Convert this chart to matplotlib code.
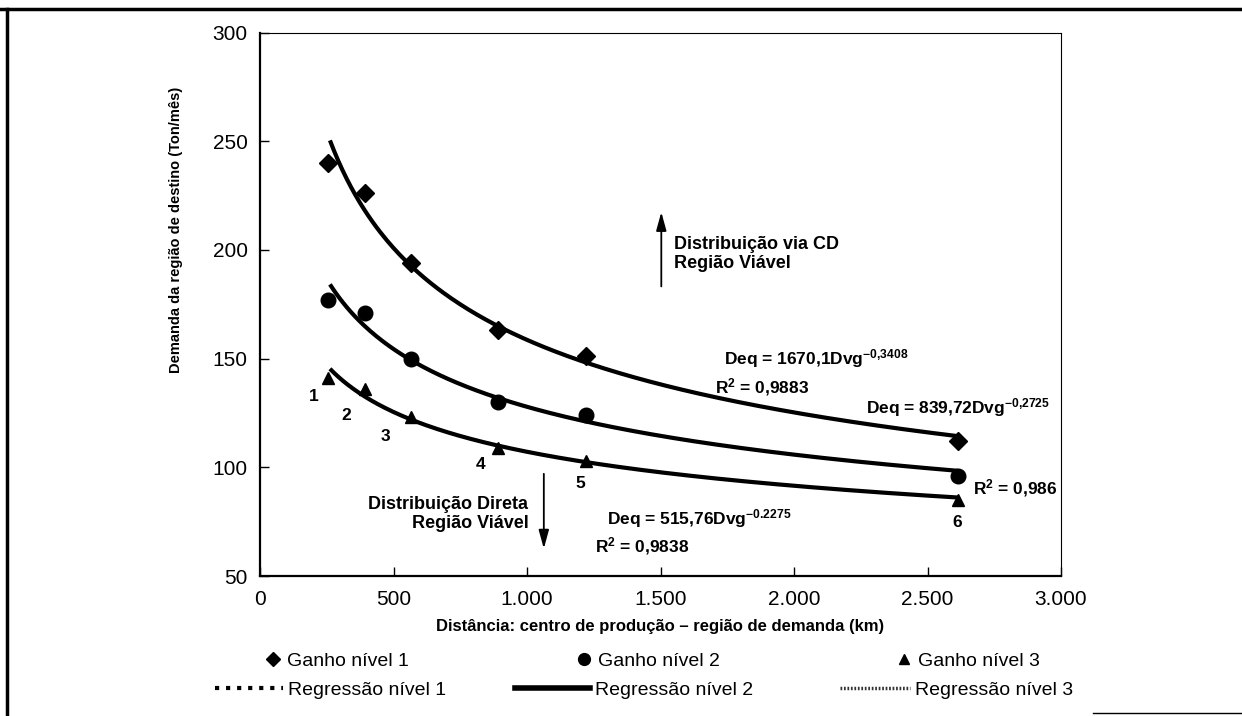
import numpy as np
import matplotlib
matplotlib.use("Agg")
import matplotlib.pyplot as plt
from matplotlib.lines import Line2D

plt.rcParams['font.family'] = ['Liberation Sans', 'DejaVu Sans']
plt.rcParams['mathtext.fontset'] = 'custom'
plt.rcParams['mathtext.rm'] = 'Liberation Sans:bold'
plt.rcParams['mathtext.it'] = 'Liberation Sans:bold'
plt.rcParams['mathtext.bf'] = 'Liberation Sans:bold'

NARROW = ['Liberation Sans Narrow', 'Liberation Sans', 'DejaVu Sans']

# distancia (km) das 6 regioes de destino
dist = [255, 395, 567, 890, 1222, 2614]
ganho1 = [240, 226, 194, 163, 151, 112]
ganho2 = [177, 171, 150, 130, 124, 96]
ganho3 = [141, 136, 123, 109, 103, 85]

# regressao Deq = a * Dvg^b (coeficientes impressos na figura)
coef_a = [1670.1, 839.72, 515.76]
coef_b = [-0.3408, -0.2725, -0.2275]
curve_from, curve_to = 262, 2614

xticks = [0, 500, 1000, 1500, 2000, 2500, 3000]
xtick_labels = ["0", "500", "1.000", "1.500", "2.000", "2.500", "3.000"]
yticks = [50, 100, 150, 200, 250, 300]

region_labels = ["1", "2", "3", "4", "5", "6"]
region_pos = [(202, 132.5), (324, 123.7), (469, 114), (826, 101.4), (1200, 92.4), (2613, 74.7)]

fig = plt.figure(figsize=(12.42, 7.16), dpi=100)
ax = fig.add_axes([260 / 1242, 1 - 576 / 716, 801 / 1242, 543.5 / 716])

xs = np.linspace(curve_from, curve_to, 300)
for a, b in zip(coef_a, coef_b):
    ax.plot(xs, a * xs ** b, color='k', lw=3, solid_capstyle='butt')

ax.plot(dist, ganho1, ls='none', marker='D', ms=9, color='k')
ax.plot(dist, ganho2, ls='none', marker='o', ms=10.5, color='k')
ax.plot(dist, ganho3, ls='none', marker='^', ms=9, color='k')

ax.set_xlim(0, 3000)
ax.set_ylim(50, 300)
ax.set_xticks(xticks)
ax.set_xticklabels(xtick_labels)
ax.set_yticks(yticks)
ax.tick_params(direction='in', length=6.5, width=1, labelsize=15)
ax.tick_params(axis='x', pad=10)
ax.tick_params(axis='y', pad=9)
ax.spines['left'].set_linewidth(1.6)
ax.spines['bottom'].set_linewidth(1.6)
ax.spines['top'].set_linewidth(0.8)
ax.spines['right'].set_linewidth(0.8)

ax.set_xlabel("Distância: centro de produção – região de demanda (km)",
              family=NARROW, fontweight='bold', fontsize=12, va='center')
ax.xaxis.set_label_coords(0.5, -0.092)
ax.set_ylabel("Demanda da região de destino (Ton/mês)",
              family=NARROW, fontweight='bold', fontsize=10.5, va='center')
ax.yaxis.set_label_coords(-0.105, 0.637)

for lab, (x, y) in zip(region_labels, region_pos):
    ax.text(x, y, lab, ha='center', va='center', fontsize=12.5, fontweight='bold')

txt_kw = dict(family=NARROW, fontweight='bold', fontsize=13)
ax.text(1005, 78.4, "Distribuição Direta\nRegião Viável", ha='right', va='center',
        multialignment='right', linespacing=1.15, **txt_kw)
ax.text(1551, 198, "Distribuição via CD\nRegião Viável", ha='left', va='center',
        linespacing=1.15, **txt_kw)

arrow = dict(arrowstyle='-|>,head_width=0.22,head_length=0.8', color='k', lw=1.3,
             mutation_scale=14, shrinkA=0, shrinkB=0)
ax.annotate('', xy=(1063, 62.6), xytext=(1063, 97), arrowprops=arrow)
ax.annotate('', xy=(1503, 217.4), xytext=(1503, 183.2), arrowprops=arrow)

eq_kw = dict(family=NARROW, fontweight='bold', fontsize=12.5, va='baseline', ha='left')
ax.text(1739, 147.4, r"Deq = 1670,1Dvg$^{-0{,}3408}$", **eq_kw)
ax.text(1705, 134.0, r"R$^{2}$ = 0,9883", **eq_kw)
ax.text(2269, 124.8, r"Deq = 839,72Dvg$^{-0{,}2725}$", **eq_kw)
ax.text(2672, 87.8, r"R$^{2}$ = 0,986", **eq_kw)
ax.text(1299, 73.9, r"Deq = 515,76Dvg$^{-0.2275}$", **eq_kw)
ax.text(1256, 61.0, r"R$^{2}$ = 0,9838", **eq_kw)

# legenda: uma entrada por posicao, como no original
fs_leg = 14
px_per_em = fs_leg * 100 / 72
entries = [
    (Line2D([], [], ls='none', marker='D', ms=7, color='k'), "Ganho nível 1", 263, 661, 19),
    (Line2D([], [], ls='none', marker='o', ms=8.5, color='k'), "Ganho nível 2", 574, 661, 19),
    (Line2D([], [], ls='none', marker='^', ms=7, color='k'), "Ganho nível 3", 894, 661, 19),
    (Line2D([], [], ls=':', lw=3, color='k'), "Regressão nível 1", 215, 690, 68),
    (Line2D([], [], ls='-', lw=4, color='k'), "Regressão nível 2", 515, 690, 75),
    (Line2D([], [], ls=(0, (0.5, 0.5)), lw=2.5, color='#333333'), "Regressão nível 3", 840, 690, 70),
]
for h, lab, x, y, hl_px in entries:
    fig.legend(handles=[h], labels=[lab], loc='center left',
               bbox_to_anchor=(x / 1242, 1 - y / 716), frameon=False,
               borderpad=0, borderaxespad=0, handlelength=hl_px / px_per_em,
               handletextpad=5 / px_per_em, fontsize=fs_leg)

# moldura da pagina
fig.add_artist(Line2D([0, 1], [1 - 9 / 716, 1 - 9 / 716], color='k', lw=2.5,
                      transform=fig.transFigure))
fig.add_artist(Line2D([7 / 1242, 7 / 1242], [0, 1 - 9 / 716], color='k', lw=2.5,
                      transform=fig.transFigure))
fig.add_artist(Line2D([0.88, 1], [0.004, 0.004], color='k', lw=1,
                      transform=fig.transFigure))

fig.savefig("out.png", dpi=100)
